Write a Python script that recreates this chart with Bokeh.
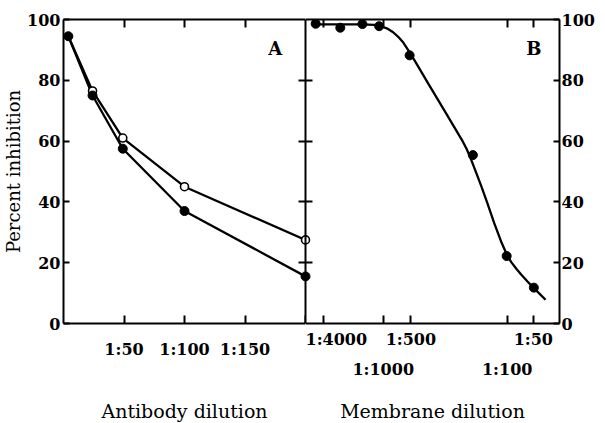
from bokeh.plotting import figure
from bokeh.layouts import row
from bokeh.models import LinearAxis, FixedTicker, Range1d, Label
from bokeh.embed import file_html
from bokeh.resources import INLINE

FONT = "DejaVu Serif"

# ---------------- Data ----------------
# Panel A: antibody dilution (1:x)
a_x = [4, 24, 49, 100, 200]
a_filled = [94.5, 75.0, 57.5, 37.0, 15.5]
a_open = [94.5, 76.5, 61.0, 45.0, 27.5]
a_ticks = [50, 100, 150, 200]
a_tick_labels = {50: "1:50", 100: "1:100", 150: "1:150", 200: ""}

# Panel B: membrane dilution (position along the drawn dilution axis)
b_x = [40, 137, 224, 290, 410, 659, 792, 899]
b_y = [98.6, 97.3, 98.5, 97.8, 88.2, 55.4, 22.2, 11.8]
b_curve_x = [39, 145, 226, 270, 300, 325, 345, 365, 385, 407, 434, 484,
             550, 615, 635, 654, 673, 692, 716, 743, 770, 793, 810, 830,
             849, 874, 897, 920, 945]
b_curve_y = [98.4, 98.4, 98.4, 98.2, 97.7, 96.9, 95.8, 94.3, 92.4, 89.6,
             85.9, 78.8, 69.6, 60.5, 57.3, 53.5, 49.4, 45.2, 39.6, 33.0,
             27.0, 22.6, 20.2, 18.0, 16.1, 13.8, 11.8, 9.9, 7.8]
b_ticks = [70, 306, 415, 794, 897]
b_labels_row1 = {70: "1:4000", 306: "", 415: "1:500", 794: "", 897: "1:50"}
b_labels_row2_ticks = [306, 794]
b_labels_row2 = {306: "1:1000", 794: "1:100"}

y_ticks = [0, 20, 40, 60, 80, 100]
y_inner_ticks = [20, 40, 60, 80]

TICK_FS = "16px"
TITLE_FS = "19px"


def style_axis(ax, ticks, tick_in=7, show_labels=True, standoff=4):
    ax.ticker = FixedTicker(ticks=ticks)
    ax.axis_line_width = 2
    ax.axis_line_color = "black"
    ax.major_tick_line_width = 2
    ax.major_tick_line_color = "black"
    ax.major_tick_in = tick_in
    ax.major_tick_out = 0
    ax.minor_tick_line_color = None
    ax.major_label_text_font = FONT
    ax.major_label_text_font_style = "bold"
    ax.major_label_text_color = "black"
    ax.axis_label_text_font = FONT
    ax.axis_label_text_font_style = "normal"
    ax.axis_label_text_font_size = TITLE_FS
    ax.axis_label_text_color = "black"
    if show_labels:
        ax.major_label_text_font_size = TICK_FS
        ax.major_label_standoff = standoff
    else:
        ax.major_label_text_font_size = "0px"
        ax.major_label_standoff = 0


# ---------------- Panel A ----------------
pa = figure(frame_width=242, frame_height=304,
            x_range=Range1d(0, 200), y_range=Range1d(0, 100),
            output_backend="svg", toolbar_location=None,
            min_border_left=57, min_border_right=0,
            min_border_top=19, min_border_bottom=60,
            outline_line_color=None, background_fill_color="white",
            border_fill_color="white")
pa.grid.visible = False

ax = pa.xaxis[0]
style_axis(ax, a_ticks, tick_in=8, standoff=16)
ax.major_label_overrides = a_tick_labels
ax.axis_label = "Antibody dilution"
ax.axis_label_standoff = 38

ay = pa.yaxis[0]
style_axis(ay, y_ticks, tick_in=6, standoff=3)
ay.axis_label = "Percent inhibition"
ay.axis_label_text_font_size = "18px"
ay.axis_label_standoff = 0

a_top = LinearAxis()
style_axis(a_top, [50, 100, 150], tick_in=8, show_labels=False)
pa.add_layout(a_top, "above")

a_right = LinearAxis()
style_axis(a_right, y_inner_ticks, tick_in=7, show_labels=False)
pa.add_layout(a_right, "right")

pa.line(a_x, a_open, line_color="black", line_width=2.3)
pa.line(a_x, a_filled, line_color="black", line_width=2.3)
pa.scatter(a_x[1:], a_open[1:], marker="circle", size=8,
           fill_color="white", line_color="black", line_width=1.6)
pa.scatter(a_x, a_filled, marker="circle", size=9,
           fill_color="black", line_color="black")

pa.add_layout(Label(x=175, y=90.5, text="A", text_align="center",
                    text_baseline="middle", text_font=FONT,
                    text_font_style="bold", text_font_size="18px",
                    text_color="black"))

# ---------------- Panel B ----------------
pb = figure(frame_width=254, frame_height=304,
            x_range=Range1d(0, 1000), y_range=Range1d(0, 100),
            output_backend="svg", toolbar_location=None,
            y_axis_location="right",
            min_border_left=0, min_border_right=0,
            min_border_top=19, min_border_bottom=60,
            outline_line_color=None, background_fill_color="white",
            border_fill_color="white")
pb.grid.visible = False

bx = pb.xaxis[0]
style_axis(bx, b_ticks, tick_in=8, standoff=6)
bx.major_label_overrides = b_labels_row1

bx2 = LinearAxis()
style_axis(bx2, b_labels_row2_ticks, tick_in=0, standoff=8)
bx2.major_label_overrides = b_labels_row2
bx2.axis_line_color = None
bx2.major_tick_line_color = None
bx2.axis_label = "Membrane dilution"
bx2.axis_label_standoff = 18
pb.add_layout(bx2, "below")

by = pb.yaxis[0]
style_axis(by, y_ticks, tick_in=6, standoff=2)

b_top = LinearAxis()
style_axis(b_top, b_ticks, tick_in=8, show_labels=False)
pb.add_layout(b_top, "above")

b_left = LinearAxis()
style_axis(b_left, y_inner_ticks, tick_in=7, show_labels=False)
pb.add_layout(b_left, "left")

pb.line(b_curve_x, b_curve_y, line_color="black", line_width=2.3)
pb.scatter(b_x, b_y, marker="circle", size=9,
           fill_color="black", line_color="black")

# the right halves of panel A's last points, which sit on the shared border
x0 = pb.x_range.start
pb.scatter([x0], [a_open[-1]], marker="circle", size=8,
           fill_color="white", line_color="black", line_width=1.6)
pb.scatter([x0], [a_filled[-1]], marker="circle", size=9,
           fill_color="black", line_color="black")

pb.add_layout(Label(x=899, y=90.3, text="B", text_align="center",
                    text_baseline="middle", text_font=FONT,
                    text_font_style="bold", text_font_size="18px",
                    text_color="black"))

layout = row(pa, pb)
open("out.html", "w").write(file_html(layout, INLINE))
